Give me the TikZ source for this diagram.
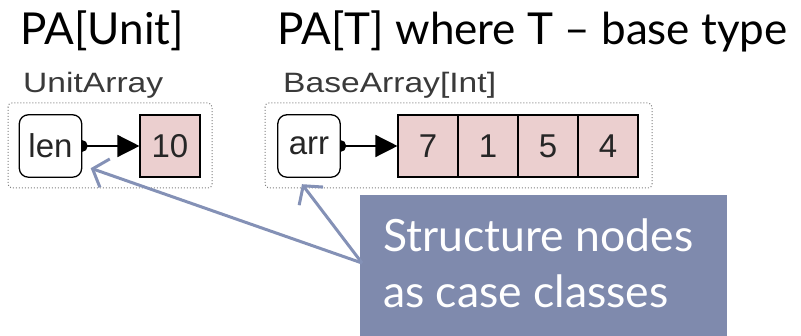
\documentclass[tikz,border=0pt]{standalone}
\usepackage{fontspec}
\setmainfont{Lato}
\newfontfamily\lab[FakeStretch=1.2]{Liberation Sans}
\newfontfamily\arialish{Liberation Sans}
\usetikzlibrary{arrows.meta,calc}
\definecolor{cellpink}{HTML}{EBCFCF}
\definecolor{callout}{HTML}{7F8AAD}
\definecolor{callarrow}{HTML}{8491B6}
\definecolor{labgray}{HTML}{3A3A3A}
\tikzset{
  title/.style={anchor=base west, inner sep=0pt, font=\fontsize{44}{50}\selectfont},
  lbl/.style={anchor=base west, inner sep=0pt, text=labgray, font=\lab\fontsize{28}{30}\selectfont},
  group/.style={draw=gray, dotted, line width=1pt, rounded corners=4pt},
  field/.style={draw=black, line width=1.3pt, rounded corners=9pt, fill=white},
  fieldtxt/.style={inner sep=0pt, minimum width=62pt, minimum height=62pt,
    text=black!85, font=\arialish\fontsize{33}{36}\selectfont},
  cell/.style={draw=black, line width=1.1pt, fill=cellpink, inner sep=0pt,
    minimum width=60pt, minimum height=62pt, text=black!85,
    font=\arialish\fontsize{33}{36}\selectfont},
  ptr/.style={line width=1.4pt, {Circle[length=12pt]}-{Triangle[length=22pt,width=22pt]}, shorten <=-6pt},
  callarr/.style={draw=callarrow, line width=3pt, -{Straight Barb[length=13pt,width=30pt]}},
  calltxt/.style={anchor=base west, inner sep=0pt, text=white, font=\fontsize{44.5}{48}\selectfont},
}
\begin{document}
\begin{tikzpicture}[x=1pt,y=-1pt]
\useasboundingbox (0,0) rectangle (801,336);
% titles
\node[title] (t1) at (20,45) {PA[Unit]};
\node[title] (t2) at (277,45) {PA[T] where T -- base type};
% labels
\node[lbl] (l1) at (23,93) {UnitArray};
\node[lbl] (l2) at (283,93) {BaseArray[Int]};
% groups
\draw[group] (8,103) rectangle (212,188);
\draw[group] (265,103) rectangle (652,188);
% field and cell nodes
\node[fieldtxt] (len) at (50.5,146) {len};
\node[fieldtxt] (arr) at (309,146) {arr};
\node[cell] (c10) at (170,146) {10};
\foreach \v/\x [count=\i] in {7/428,1/488,5/548,4/608}{
  \node[cell] (a\i) at (\x,146) {\v};
}
% pointers (start dot drawn under the field box)
\draw[ptr] (len.east) -- (c10.west);
\draw[ptr] (arr.east) -- (a1.west);
\draw[field] (len.south west) rectangle (len.north east);
\draw[field] (arr.south west) rectangle (arr.north east);
\node[fieldtxt] (lentxt) at (len.center) {len};
\node[fieldtxt] (arrtxt) at (arr.center) {arr};
% callout
\fill[callout] (360,195) rectangle (727,337);
\node[calltxt] (s1) at (383,252) {Structure nodes};
\node[calltxt] (s2) at (383,308) {as case classes};
\coordinate (cs) at (362,263);
\coordinate (lentip) at ($(len.south east)+(9,-9)$);
\coordinate (arrtip) at ($(arr.south)+(-7,7)$);
\draw[callarr] (cs) -- (lentip);
\draw[callarr] (cs) -- (arrtip);
\end{tikzpicture}
\end{document}
